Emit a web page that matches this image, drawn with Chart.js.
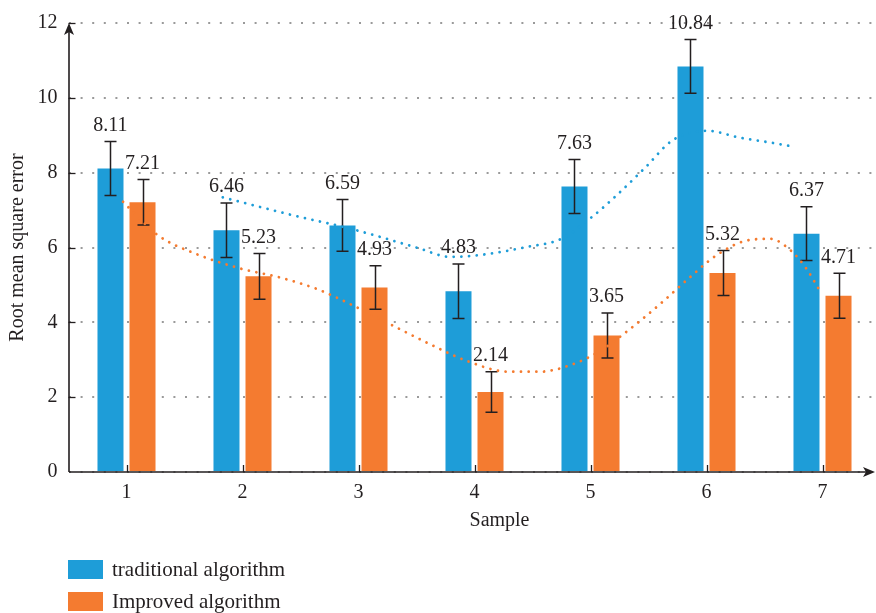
<!DOCTYPE html>
<html><head><meta charset="utf-8">
<script src="https://cdn.jsdelivr.net/npm/chart.js@4.4.1/dist/chart.umd.min.js"></script>
<style>
html,body{margin:0;padding:0;overflow:hidden;background:#fff;width:876px;height:613px;}
.wrap{position:absolute;left:0;top:0;width:884px;height:613px;}
#wrapLines{pointer-events:none;}
.leg{position:absolute;left:68px;display:flex;align-items:center;font-family:"Liberation Serif",serif;font-size:21px;color:#231f20;height:20px;white-space:nowrap;}
.sw{display:inline-block;width:35px;height:19px;margin-right:9px;}
</style></head><body>
<div class="wrap" id="wrapBars"><canvas id="c"></canvas></div>
<div class="wrap" id="wrapLines"><canvas id="c2"></canvas></div>
<div class="leg" style="top:559px"><span class="sw" id="sw1"></span>traditional algorithm</div>
<div class="leg" style="top:591px"><span class="sw" id="sw2"></span>Improved algorithm</div>
<script>
// ---- data ----
const samples = ['1', '2', '3', '4', '5', '6', '7'];
const traditional = [8.11, 6.46, 6.59, 4.83, 7.63, 10.84, 6.37];
const improved = [7.21, 5.23, 4.93, 2.14, 3.65, 5.32, 4.71];
const traditionalErr = [0.72, 0.73, 0.69, 0.73, 0.72, 0.72, 0.72];
const improvedErr = [0.61, 0.61, 0.58, 0.54, 0.60, 0.60, 0.60];
const yTicks = [0, 2, 4, 6, 8, 10, 12];
// dotted trend curves (x in sample units)
const traditionalTrendX = [1.83, 2.41, 2.97, 3.51, 3.79, 4.05, 4.46, 4.74, 5.01, 5.22, 5.47, 5.71, 6.01, 6.28, 6.56, 6.76];
const traditionalTrendY = [7.34, 6.88, 6.47, 5.99, 5.75, 5.80, 6.02, 6.22, 6.81, 7.38, 8.13, 8.87, 9.12, 8.94, 8.80, 8.69];
const improvedTrendX = [0.97, 1.27, 1.59, 1.98, 2.32, 2.65, 2.96, 3.33, 3.64, 3.95, 4.29, 4.56, 4.83, 5.08, 5.36, 5.63, 5.83, 6.09, 6.34, 6.55, 6.73, 6.86, 6.97];
const improvedTrendY = [7.22, 6.33, 5.84, 5.44, 5.20, 4.88, 4.44, 3.86, 3.38, 2.95, 2.68, 2.68, 2.86, 3.23, 3.87, 4.57, 5.13, 5.80, 6.18, 6.23, 5.91, 5.44, 4.88];

const BLUE = '#1e9dd8';
const ORANGE = '#f47b30';
const INK = '#231f20';
const FONT = '"Liberation Serif", "Times New Roman", serif';

// plot-area frame shared by both layers
const PAD_TOP = 23, PAD_RIGHT = 3.5, Y_AXIS_W = 68.5, X_AXIS_H = 141;

document.getElementById('sw1').style.background = BLUE;
document.getElementById('sw2').style.background = ORANGE;

const toPts = (xs, ys) => xs.map((x, i) => ({x: x, y: ys[i]}));

const decor = {
  id: 'decor',
  afterDatasetsDraw(chart) {
    const {ctx, chartArea: a, scales: {x, y}} = chart;
    ctx.save();
    // inside tick marks
    ctx.strokeStyle = INK;
    ctx.lineWidth = 1.3;
    yTicks.forEach(v => {
      if (v === 0) return;
      const py = Math.round(y.getPixelForValue(v)) + 0.5;
      ctx.beginPath(); ctx.moveTo(a.left, py); ctx.lineTo(a.left + 7, py); ctx.stroke();
    });
    samples.forEach((s, i) => {
      const px = Math.round(x.getPixelForValue(i)) + 0.5;
      ctx.beginPath(); ctx.moveTo(px, a.bottom); ctx.lineTo(px, a.bottom - 7); ctx.stroke();
    });
    // error bars + value labels
    const sets = [[0, traditional, traditionalErr], [1, improved, improvedErr]];
    ctx.font = '20px ' + FONT;
    ctx.textAlign = 'center';
    ctx.textBaseline = 'middle';
    sets.forEach(([di, vals, errs]) => {
      const meta = chart.getDatasetMeta(di);
      meta.data.forEach((bar, i) => {
        const cx = Math.round(bar.x) + 0.5;
        const top = y.getPixelForValue(vals[i] + errs[i]);
        const bot = y.getPixelForValue(vals[i] - errs[i]);
        ctx.strokeStyle = INK;
        ctx.lineWidth = 1.5;
        ctx.beginPath();
        ctx.moveTo(cx, top); ctx.lineTo(cx, bot);
        ctx.moveTo(cx - 6, top); ctx.lineTo(cx + 6, top);
        ctx.moveTo(cx - 6, bot); ctx.lineTo(cx + 6, bot);
        ctx.stroke();
        ctx.fillStyle = INK;
        ctx.fillText(vals[i].toFixed(2), bar.x, top - 16);
      });
    });
    // axes with arrows
    const ax = a.left + 0.5;
    const tipX = chart.width - 9;
    ctx.strokeStyle = INK;
    ctx.fillStyle = INK;
    ctx.lineWidth = 1.6;
    ctx.beginPath();
    ctx.moveTo(ax, a.bottom); ctx.lineTo(ax, a.top + 6);
    ctx.moveTo(ax, a.bottom); ctx.lineTo(tipX - 6, a.bottom);
    ctx.stroke();
    ctx.beginPath();
    ctx.moveTo(ax, a.top); ctx.lineTo(ax - 5, a.top + 12); ctx.lineTo(ax, a.top + 9); ctx.lineTo(ax + 5, a.top + 12); ctx.closePath();
    ctx.fill();
    ctx.beginPath();
    ctx.moveTo(tipX, a.bottom); ctx.lineTo(tipX - 12, a.bottom - 5); ctx.lineTo(tipX - 9, a.bottom); ctx.lineTo(tipX - 12, a.bottom + 5); ctx.closePath();
    ctx.fill();
    // x axis title
    ctx.font = '20px ' + FONT;
    ctx.fillStyle = INK;
    ctx.textBaseline = 'middle';
    ctx.textAlign = 'center';
    ctx.fillText('Sample', (x.getPixelForValue(3) + x.getPixelForValue(4)) / 2 - 33, 521);
    ctx.restore();
  }
};

// layer 1: bars, axes, error bars, labels
new Chart(document.getElementById('c'), {
  type: 'bar',
  data: {
    labels: samples,
    datasets: [
      {label: 'traditional algorithm', data: traditional, backgroundColor: BLUE,
       categoryPercentage: 0.552, barPercentage: 0.8125},
      {label: 'Improved algorithm', data: improved, backgroundColor: ORANGE,
       categoryPercentage: 0.552, barPercentage: 0.8125}
    ]
  },
  options: {
    responsive: true,
    maintainAspectRatio: false,
    animation: false,
    devicePixelRatio: 1,
    layout: {padding: {left: 0, right: PAD_RIGHT, top: PAD_TOP, bottom: 0}},
    plugins: {legend: {display: false}, tooltip: {enabled: false}},
    scales: {
      x: {
        type: 'category',
        offset: true,
        grid: {display: false, drawTicks: false},
        border: {display: false},
        ticks: {color: INK, padding: 9, font: {family: FONT, size: 20}, maxRotation: 0},
        afterFit: s => { s.height = X_AXIS_H; }
      },
      y: {
        min: 0, max: 12,
        afterBuildTicks: s => { s.ticks = yTicks.map(v => ({value: v})); },
        grid: {color: '#9a9a9a', lineWidth: 2, drawTicks: false},
        border: {display: false, dash: [2, 9.6]},
        ticks: {color: INK, padding: 11, font: {family: FONT, size: 20}},
        title: {display: true, text: 'Root mean square error', color: INK,
                font: {family: FONT, size: 20}, padding: {top: 6, bottom: 0}},
        afterFit: s => { s.width = Y_AXIS_W; }
      }
    }
  },
  plugins: [decor]
});

// layer 2: dotted trend curves, same plot frame, drawn on top of the bars
new Chart(document.getElementById('c2'), {
  type: 'line',
  data: {
    datasets: [
      {label: 'traditional trend', data: toPts(traditionalTrendX, traditionalTrendY),
       borderColor: BLUE, borderWidth: 2.8, borderDash: [0.001, 7.7], borderCapStyle: 'round',
       pointRadius: 0, cubicInterpolationMode: 'monotone', fill: false},
      {label: 'Improved trend', data: toPts(improvedTrendX, improvedTrendY),
       borderColor: ORANGE, borderWidth: 2.8, borderDash: [0.001, 7.7], borderCapStyle: 'round',
       pointRadius: 0, cubicInterpolationMode: 'monotone', fill: false}
    ]
  },
  options: {
    responsive: true,
    maintainAspectRatio: false,
    animation: false,
    devicePixelRatio: 1,
    layout: {padding: {left: Y_AXIS_W, right: PAD_RIGHT, top: PAD_TOP, bottom: X_AXIS_H}},
    plugins: {legend: {display: false}, tooltip: {enabled: false}},
    scales: {
      x: {type: 'linear', display: false, min: 0.5, max: 7.5},
      y: {type: 'linear', display: false, min: 0, max: 12}
    }
  }
});
</script>
</body></html>
